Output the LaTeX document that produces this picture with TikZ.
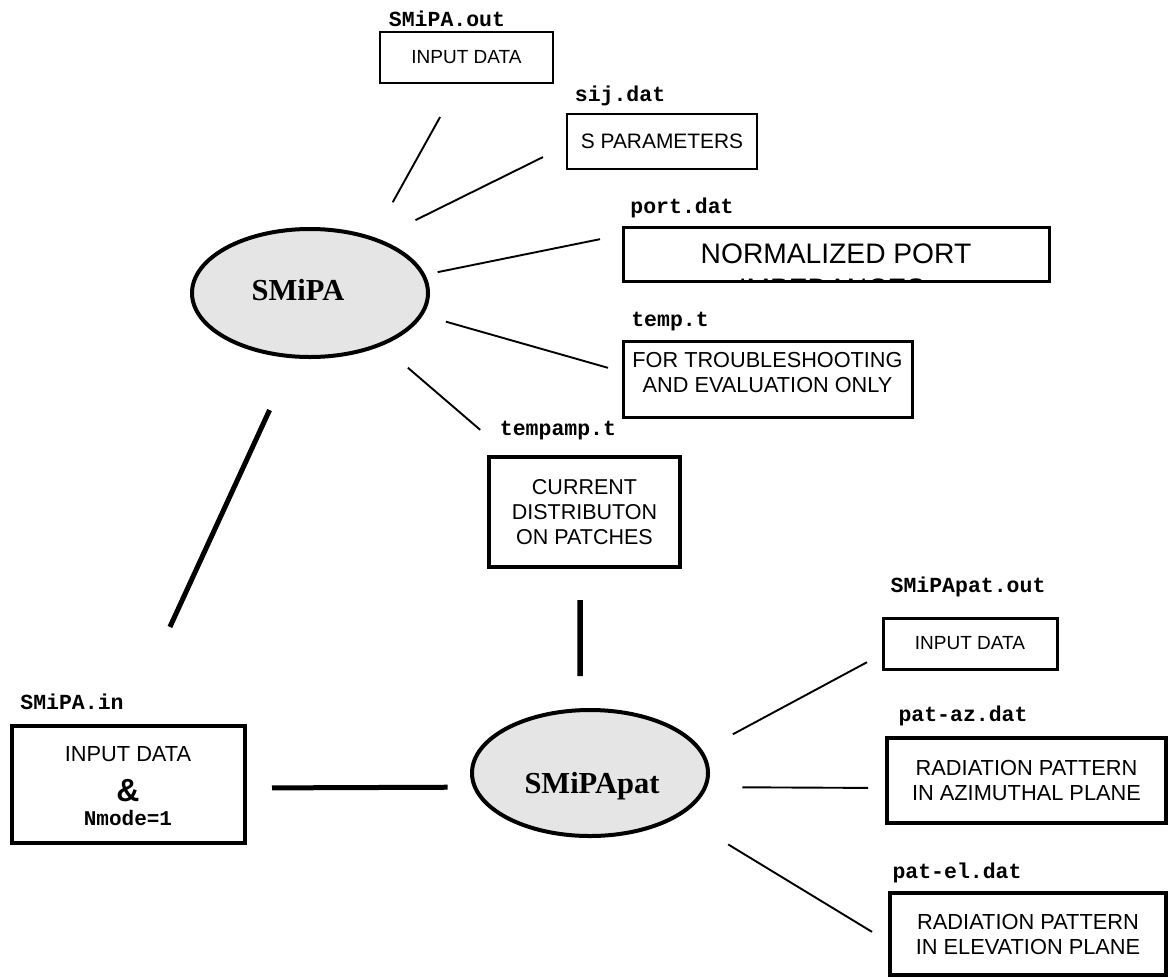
\documentclass[tikz,border=0pt]{standalone}
\usepackage{fontspec}
\setmainfont{Liberation Sans}
\newfontfamily\labelmono{Liberation Mono}
\newfontfamily\ellserif{Liberation Serif}
\usetikzlibrary{shapes.geometric,calc}
\begin{document}
\begin{tikzpicture}[x=1pt,y=-1pt,
  fname/.style={anchor=base, inner sep=0pt, font=\labelmono\bfseries\fontsize{21.5}{24}\selectfont},
  obox/.style={draw, rectangle, inner sep=0pt, outer sep=0pt, align=center, line width=2.7pt},
  heavybox/.style={obox, line width=4.7pt},
  txt/.style={font=\fontsize{#1}{25}\selectfont},
  ell/.style={ellipse, draw, line width=4pt, fill=gray!20, inner sep=0pt, outer sep=0pt},
  elltext/.style={anchor=base, inner sep=0pt, font=\ellserif\bfseries\fontsize{30.5}{34}\selectfont},
  thinline/.style={line width=1.9pt},
  heavyline/.style={line width=5pt},
]
\useasboundingbox (0,0) rectangle (1169,977);

% ---- top group (SMiPA outputs)
\node[obox, txt=19, minimum width=173pt, minimum height=51pt] (box1) at (466.5,57.5) {INPUT DATA};
\node[fname] (lbl1) at (447,26) {SMiPA.out};

\node[obox, txt=20.9, minimum width=190pt, minimum height=55pt] (box2) at (662,141.5) {S PARAMETERS};
\node[fname] (lbl2) at (620,101) {sij.dat};

\node[obox, line width=3pt, txt=28.2, minimum width=426pt, minimum height=54pt] (box3) at (836,254) {NORMALIZED PORT};
\begin{scope}
  \clip (623,227) rectangle (1049,282.5);
  \node[anchor=base, inner sep=0pt, font=\fontsize{28.2}{30}\selectfont] (box3b) at (832,298) {IMPEDANCES};
\end{scope}
\node[fname] (lbl3) at (682,213) {port.dat};

\node[obox, line width=3pt, minimum width=289pt, minimum height=76pt] (box4) at (767.5,379) {};
\node[txt=21.7, align=center, inner sep=0pt] (box4t) at (767.5,372.5) {FOR TROUBLESHOOTING\\AND EVALUATION ONLY};
\node[fname] (lbl4) at (670,326) {temp.t};

\node[heavybox, txt=21.5, minimum width=191pt, minimum height=110pt] (box5) at (584.5,512) {CURRENT\\DISTRIBUTON\\ON PATCHES};
\node[fname] (lbl5) at (558,435) {tempamp.t};

% ---- input box
\node[heavybox, minimum width=233pt, minimum height=117pt] (box6) at (128.5,784.5) {};
\node[anchor=base, inner sep=0pt, txt=21.8] (b6a) at (128,761) {INPUT DATA};
\node[anchor=base, inner sep=0pt, font=\bfseries\fontsize{32}{32}\selectfont] (b6b) at (128,801) {\&};
\node[anchor=base, inner sep=0pt, font=\labelmono\bfseries\fontsize{21}{24}\selectfont] (b6c) at (128,825) {Nmode=1};
\node[fname] (lbl6) at (72,709) {SMiPA.in};

% ---- SMiPApat outputs
\node[obox, line width=3pt, txt=19, minimum width=174pt, minimum height=51pt] (box7) at (970,643.5) {INPUT DATA};
\node[fname] (lbl7) at (968,592) {SMiPApat.out};

\node[heavybox, txt=21.8, minimum width=279pt, minimum height=85pt] (box8) at (1026.5,780.5) {RADIATION PATTERN\\IN AZIMUTHAL PLANE};
\node[fname] (lbl8) at (963,721) {pat-az.dat};

\node[heavybox, txt=21.8, minimum width=276pt, minimum height=82pt] (box9) at (1028,934) {RADIATION PATTERN\\IN ELEVATION PLANE};
\node[fname] (lbl9) at (957,878) {pat-el.dat};

% ---- programs
\node[ell, minimum width=236pt, minimum height=128pt] (smipa) at (310,293) {};
\node[elltext] (smipat) at (298,300) {SMiPA};
\node[ell, minimum width=236pt, minimum height=126pt] (smipapat) at (590,773) {};
\node[elltext] (smipapatt) at (592,793) {SMiPApat};

% ---- connectors
\draw[thinline, shorten <=41.7pt, shorten >=39pt] (smipa.41.6) -- ([xshift=-7.5pt]box1.south);
\draw[thinline, shorten <=44.4pt, shorten >=26.8pt] (smipa.39.3) -- ([yshift=-3.7pt]box2.west);
\draw[thinline, shorten <=14.7pt, shorten >=23.4pt] (smipa.9.7) -- ([yshift=19.5pt]box3.west);
\draw[thinline, shorten <=25.8pt, shorten >=15.6pt] (smipa.-11.85) -- ([yshift=6.9pt]box4.west);
\draw[thinline, shorten <=36pt, shorten >=41.7pt] (smipa.-36.6) -- ([xshift=-72.7pt]box5.north);
\draw[heavyline, shorten <=59pt, shorten >=109pt] (smipa.256.4) -- ([xshift=-4.1pt]box6.north);
\draw[heavyline, shorten <=27pt, shorten >=27.4pt] ([yshift=-3.5pt]box6.east) -- (smipapat.187.5);
\draw[heavyline, line width=5.5pt, shorten <=33pt, shorten >=34.2pt] ([xshift=-4.5pt]box5.south) -- (smipapat.99.05);
\draw[thinline, shorten <=36.3pt, shorten >=18.1pt] (smipapat.11.9) -- ([yshift=-10.1pt]box7.west);
\draw[thinline, shorten <=37.4pt, shorten >=19pt] (smipapat.-7.5) -- ([yshift=-7.5pt]box8.west);
\draw[thinline, shorten <=57.7pt, shorten >=21pt] (smipapat.-25.8) -- ([yshift=-8.8pt]box9.west);
\end{tikzpicture}
\end{document}
